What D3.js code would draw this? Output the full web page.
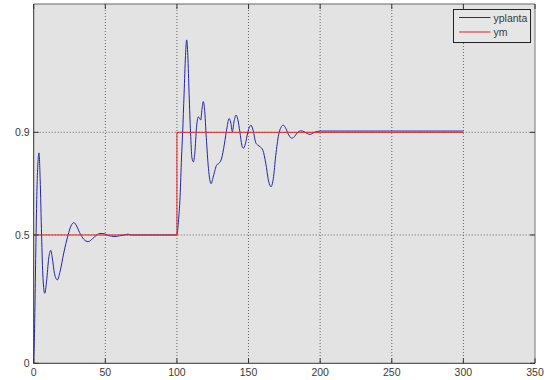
<!DOCTYPE html>
<html>
<head>
<meta charset="utf-8">
<script src="https://cdn.jsdelivr.net/npm/d3@7"></script>
<style>
  body { margin: 0; background: #fff; }
  svg text { font-family: "Liberation Sans", Arial, sans-serif; font-size: 10.5px; fill: #3a3a3a; }
</style>
</head>
<body>
<svg width="551" height="380"></svg>
<script>
// tiempo y salida de la planta
var t = [0, 0.5, 1.5, 2.5, 3.7, 4.5, 5.5, 6.5, 7.7, 9, 10.5, 11.9, 13, 14.5, 16.5, 18.5, 21, 24, 26, 28.1,
  30, 32, 35, 38, 41, 44, 46.3, 49, 52, 56.8, 60, 63, 66, 68, 100,
  101, 102.2, 103.2, 104, 105, 106, 106.8, 107.6, 108.5, 109.5, 110.5, 111.5, 112.5, 113.7, 114.9, 115.8, 116.6,
  117.5, 118.4, 119.3, 120.5, 122, 123.8, 125.5, 127.8, 129.5, 131.3, 133, 135, 136.4, 137.5, 138.7, 139.8,
  141.3, 142.5, 144, 145.3, 146.4, 147.8, 149.5, 151.7, 153.3, 155, 156.5, 158, 160, 162, 164, 165.7, 167.3,
  169, 171, 172.7, 174.3, 176, 178, 180.2, 182, 184, 186.7, 189, 191, 193, 196, 200, 300];
var yplanta = [0, 0.1, 0.45, 0.72, 0.82, 0.72, 0.5, 0.33, 0.273, 0.32, 0.41, 0.44, 0.41, 0.35, 0.325, 0.36, 0.43, 0.5, 0.535, 0.548,
  0.535, 0.51, 0.483, 0.474, 0.485, 0.5, 0.506, 0.505, 0.498, 0.494, 0.497, 0.5, 0.503, 0.5, 0.5,
  0.55, 0.65, 0.8, 0.9, 1.05, 1.2, 1.26, 1.2, 1.05, 0.9, 0.8, 0.785, 0.82, 0.92, 0.96, 0.955, 0.948,
  0.99, 1.02, 0.99, 0.88, 0.76, 0.70, 0.73, 0.773, 0.78, 0.80, 0.85, 0.92, 0.954, 0.94, 0.902, 0.94,
  0.967, 0.95, 0.9, 0.85, 0.838, 0.855, 0.9, 0.928, 0.905, 0.86, 0.85, 0.844, 0.83, 0.78, 0.71, 0.688, 0.72,
  0.81, 0.89, 0.92, 0.928, 0.915, 0.89, 0.877, 0.883, 0.898, 0.906, 0.902, 0.895, 0.892, 0.9, 0.905, 0.905];

// referencia del modelo
var tm = [0, 100, 100, 300];
var ym = [0.5, 0.5, 0.9, 0.9];

var xTicks = [0, 50, 100, 150, 200, 250, 300, 350];
var yTicks = [0, 0.5, 0.9];
var yTickLabels = ["0", "0.5", "0.9"];

var svg = d3.select("svg");
var x = d3.scaleLinear().domain([0, 350]).range([33.7, 535]);
var y = d3.scaleLinear().domain([0, 1.4]).range([363.3, 4]);

var x0 = x.range()[0], x1 = x.range()[1], y0 = y.range()[0], y1 = y.range()[1];

// fondo del eje
svg.append("rect")
    .attr("x", x0).attr("y", y1)
    .attr("width", x1 - x0).attr("height", y0 - y1)
    .attr("fill", "#e3e3e3");

// grilla punteada
svg.selectAll(".gx")
    .data(xTicks.filter(function(d) { return d > 0 && d < 350; }))
  .enter().append("line")
    .attr("x1", function(d) { return x(d); }).attr("x2", function(d) { return x(d); })
    .attr("y1", y1).attr("y2", y0)
    .attr("stroke", "#666").attr("stroke-width", 1)
    .attr("stroke-dasharray", "1,2");

svg.selectAll(".gy")
    .data(yTicks.filter(function(d) { return d > 0; }))
  .enter().append("line")
    .attr("x1", x0).attr("x2", x1)
    .attr("y1", function(d) { return y(d); }).attr("y2", function(d) { return y(d); })
    .attr("stroke", "#666").attr("stroke-width", 1)
    .attr("stroke-dasharray", "1,2");

// lineas
var lineBlue = d3.line()
    .x(function(d, i) { return x(t[i]); })
    .y(function(d) { return y(d); })
    .curve(d3.curveMonotoneX);

svg.append("path")
    .datum(yplanta)
    .attr("d", lineBlue)
    .attr("fill", "none")
    .attr("stroke", "#2626a6")
    .attr("stroke-width", 1);

var lineRed = d3.line()
    .x(function(d, i) { return x(tm[i]); })
    .y(function(d) { return y(d); });

svg.append("path")
    .datum(ym)
    .attr("d", lineRed)
    .attr("fill", "none")
    .attr("stroke", "#e02424")
    .attr("stroke-width", 1);

// caja del eje
svg.append("line").attr("x1", x0).attr("x2", x1).attr("y1", y1).attr("y2", y1).attr("stroke", "#666");
svg.append("line").attr("x1", x1).attr("x2", x1).attr("y1", y1).attr("y2", y0).attr("stroke", "#777");
svg.append("line").attr("x1", x0).attr("x2", x0).attr("y1", y1).attr("y2", y0).attr("stroke", "#333");
svg.append("line").attr("x1", x0).attr("x2", x1).attr("y1", y0).attr("y2", y0).attr("stroke", "#333");

// marcas
xTicks.forEach(function(d) {
  svg.append("line").attr("x1", x(d)).attr("x2", x(d)).attr("y1", y0).attr("y2", y0 - 5).attr("stroke", "#333");
  svg.append("line").attr("x1", x(d)).attr("x2", x(d)).attr("y1", y1).attr("y2", y1 + 5).attr("stroke", "#333");
  svg.append("text")
      .attr("x", x(d)).attr("y", y0 + 12.5)
      .attr("text-anchor", "middle")
      .text(d);
});

yTicks.forEach(function(d, i) {
  svg.append("line").attr("x1", x0).attr("x2", x0 + 5).attr("y1", y(d)).attr("y2", y(d)).attr("stroke", "#333");
  svg.append("line").attr("x1", x1).attr("x2", x1 - 5).attr("y1", y(d)).attr("y2", y(d)).attr("stroke", "#333");
  svg.append("text")
      .attr("x", x0 - 4).attr("y", y(d) + 4)
      .attr("text-anchor", "end")
      .text(yTickLabels[i]);
});

// leyenda
var legend = svg.append("g").attr("transform", "translate(453.5,9.5)");
legend.append("rect")
    .attr("width", 77).attr("height", 33)
    .attr("fill", "#e6e6e6").attr("stroke", "#222");
[["yplanta", "#2626a6"], ["ym", "#e02424"]].forEach(function(d, i) {
  legend.append("line")
      .attr("x1", 5.5).attr("x2", 37)
      .attr("y1", 8 + i * 14.5).attr("y2", 8 + i * 14.5)
      .attr("stroke", d[1]).attr("stroke-width", 1);
  legend.append("text")
      .attr("x", 40).attr("y", 12 + i * 14.5)
      .text(d[0]);
});
</script>
</body>
</html>
